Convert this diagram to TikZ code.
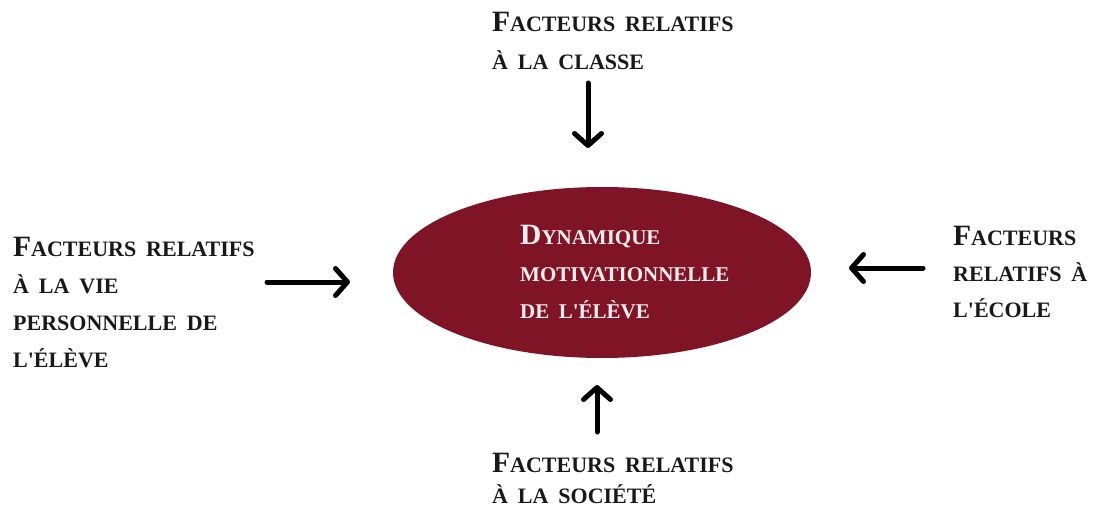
\documentclass[tikz,border=0pt]{standalone}
\usepackage{fontspec}
\setmainfont{Liberation Serif}[WordSpace={1.8}]
\usetikzlibrary{arrows.meta,shapes.geometric}
\definecolor{maroon}{HTML}{7F1426}
\definecolor{pinkwhite}{HTML}{F7EDEE}
\newcommand\Ini[1]{{\fontsize{29.5}{0}\selectfont #1}}
\newcommand\ap{\textquotesingle}
\tikzset{
  lbl/.style={font=\bfseries\fontsize{22}{#1}\selectfont, align=left, inner sep=0pt, anchor=base west, text=black!90},
  arr/.style={line width=5pt, line cap=round, -{Straight Barb[length=12pt,width=27pt,round]}},
}
\begin{document}
\begin{tikzpicture}[x=1pt,y=1pt]
\useasboundingbox (0,0) rectangle (1095,515);
\node[ellipse, fill=maroon, minimum width=418pt, minimum height=171pt, inner sep=0pt] (ell) at (602,242.5) {};
\node[lbl=37, text=pinkwhite, font=\bfseries\fontsize{21}{37}\selectfont] (centre) at (520,197) {\Ini{D}YNAMIQUE\\MOTIVATIONNELLE\\DE L\ap ÉLÈVE};
\node[lbl=38] (classe) at (492,445) {\Ini{F}ACTEURS RELATIFS\\À LA CLASSE};
\node[lbl=36.7] (vie) at (13,148) {\Ini{F}ACTEURS RELATIFS\\À LA VIE\\PERSONNELLE DE\\L\ap ÉLÈVE};
\node[lbl=36] (ecole) at (953,198) {\Ini{F}ACTEURS\\RELATIFS À\\L\ap ÉCOLE};
\node[lbl=31] (societe) at (492,12) {\Ini{F}ACTEURS RELATIFS\\À LA SOCIÉTÉ};
\coordinate (t1) at (588,432); \coordinate (t2) at (588,367);
\coordinate (l1) at (267,233); \coordinate (l2) at (350,233);
\coordinate (r1) at (923,247); \coordinate (r2) at (849,247);
\coordinate (b1) at (597,83);  \coordinate (b2) at (597,130);
\draw[arr] (t1) -- (t2);
\draw[arr] (l1) -- (l2);
\draw[arr] (r1) -- (r2);
\draw[arr] (b1) -- (b2);
\end{tikzpicture}
\end{document}
